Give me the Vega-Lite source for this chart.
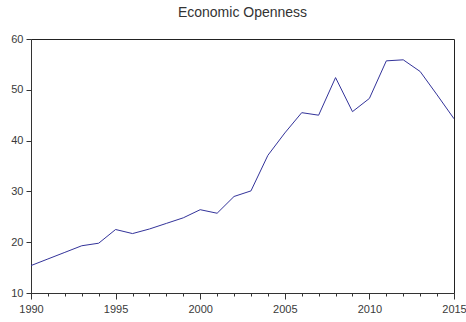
{
  "$schema": "https://vega.github.io/schema/vega-lite/v6.json",
  "autosize": "none",
  "width": 423,
  "height": 254,
  "padding": {"left": 31, "top": 39, "right": 12, "bottom": 29},
  "background": "white",
  "title": {
    "text": "Economic Openness",
    "font": "Liberation Sans",
    "fontSize": 14,
    "fontWeight": "normal",
    "color": "#333333",
    "anchor": "middle",
    "offset": 13
  },
  "config": {
    "view": {"stroke": "#222222", "strokeWidth": 1},
    "axis": {
      "labelFont": "Liberation Sans",
      "labelFontSize": 11,
      "labelColor": "#3a3a3a",
      "domainColor": "#333333",
      "tickColor": "#333333",
      "grid": false,
      "title": null
    }
  },
  "data": {
    "values": [
      {"year": 1990, "value": 15.4},
      {"year": 1991, "value": 16.7},
      {"year": 1992, "value": 18.0},
      {"year": 1993, "value": 19.3},
      {"year": 1994, "value": 19.8},
      {"year": 1995, "value": 22.5},
      {"year": 1996, "value": 21.7},
      {"year": 1997, "value": 22.6},
      {"year": 1998, "value": 23.7},
      {"year": 1999, "value": 24.8},
      {"year": 2000, "value": 26.4},
      {"year": 2001, "value": 25.7},
      {"year": 2002, "value": 29.0},
      {"year": 2003, "value": 30.1},
      {"year": 2004, "value": 37.1},
      {"year": 2005, "value": 41.5},
      {"year": 2006, "value": 45.5},
      {"year": 2007, "value": 45.0},
      {"year": 2008, "value": 52.4},
      {"year": 2009, "value": 45.7},
      {"year": 2010, "value": 48.3},
      {"year": 2011, "value": 55.7},
      {"year": 2012, "value": 55.9},
      {"year": 2013, "value": 53.6},
      {"year": 2014, "value": 49.0},
      {"year": 2015, "value": 44.3}
    ]
  },
  "mark": {"type": "line", "color": "#33339a", "strokeWidth": 1, "clip": true},
  "encoding": {
    "x": {
      "field": "year",
      "type": "quantitative",
      "scale": {"domain": [1990, 2015], "nice": false, "zero": false},
      "axis": {
        "values": [1990,1991,1992,1993,1994,1995,1996,1997,1998,1999,2000,2001,2002,2003,2004,2005,2006,2007,2008,2009,2010,2011,2012,2013,2014,2015],
        "format": "d",
        "labelExpr": "datum.value % 5 === 0 ? datum.label : ''",
        "tickSize": {"condition": {"test": "datum.value % 5 === 0", "value": 6}, "value": 3},
        "labelPadding": 4,
        "labelFlush": false,
        "labelOverlap": false
      }
    },
    "y": {
      "field": "value",
      "type": "quantitative",
      "scale": {"domain": [10, 60], "nice": false, "zero": false},
      "axis": {
        "values": [10, 20, 30, 40, 50, 60],
        "tickSize": 5,
        "labelPadding": 3,
        "labelFlush": false
      }
    }
  }
}
